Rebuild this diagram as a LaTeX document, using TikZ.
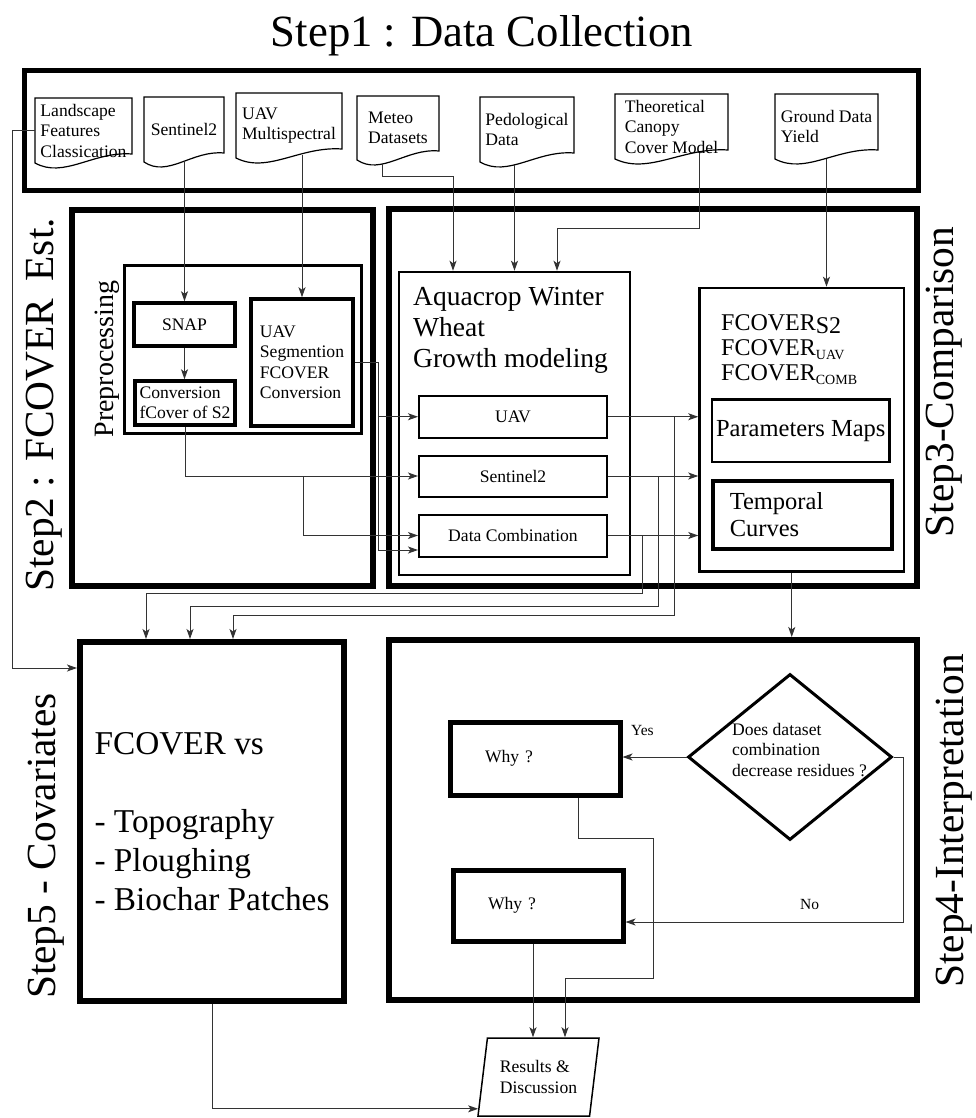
\documentclass[tikz,border=0pt]{standalone}
\usepackage{fontspec}
\setmainfont{Liberation Serif}
\usetikzlibrary{arrows.meta,calc,shapes.geometric}

\newcommand{\fsmall}{\fontsize{17.6}{20.5}\selectfont}
\newcommand{\flbl}{\fontsize{15.5}{18}\selectfont}
\newcommand{\fmid}{\fontsize{24.5}{27}\selectfont}
\newcommand{\fcmp}{\fontsize{24}{25}\selectfont}
\newcommand{\fsub}{\fontsize{14}{14}\selectfont}
\newcommand{\faqua}{\fontsize{27.5}{31}\selectfont}
\newcommand{\fprep}{\fontsize{28}{31}\selectfont}
\newcommand{\fbody}{\fontsize{33.3}{39}\selectfont}
\newcommand{\fstep}{\fontsize{41.4}{46}\selectfont}
\newcommand{\ftitle}{\fontsize{44.7}{50}\selectfont}

% outline of a document symbol around a named node
\newcommand{\docframe}[1]{%
  \draw[docline] (#1.south west) -- (#1.north west) -- (#1.north east)
    -- ($(#1.south east)+(0,-9)$)
    .. controls ($(#1.south west)!0.6!(#1.south east)+(0,-12)$)
    and ($(#1.south west)!0.3!(#1.south east)+(0,16)$) .. (#1.south west) -- cycle;}

\begin{document}
\begin{tikzpicture}[x=1pt, y=-1pt,
    stepbox/.style={draw, line width=6pt, inner sep=0pt},
    midbox/.style={draw, line width=2.5pt, inner sep=0pt},
    subbox/.style={draw, line width=2pt, inner sep=0pt, font=\fsmall},
    doc/.style={inner sep=0pt, outer sep=0pt, align=left, font=\fsmall},
    docline/.style={line width=1.2pt},
    steplbl/.style={font=\fstep, rotate=90, anchor=base, inner sep=0pt},
    conn/.style={line width=1pt, black!80, -{Stealth[length=10pt,width=7pt,inset=2.5pt]}}]
    \useasboundingbox (0,0) rectangle (976,1118);

    % bends of the connectors
    \coordinate (lcorner) at (12,668);
    \coordinate (mbend) at (453,177);
    \coordinate (tbend) at (557,228);
    \coordinate (jseg) at (378,362.5);
    \coordinate (jconv) at (303,476);
    \coordinate (juav) at (674,615);
    \coordinate (jsen) at (658,606);
    \coordinate (jcomb) at (642,593);
    \coordinate (w1a) at (653,838);
    \coordinate (w1b) at (565,978);
    \coordinate (ncorner) at (903,922);

    % Step1
    \node[font=\ftitle, anchor=base, inner sep=0pt] (title) at (482,47) {Step1 : Data Collection};
    \node[draw, line width=5pt, minimum width=894pt, minimum height=120pt] (step1) at (471,130.5) {};

    \node[doc, minimum width=97pt, minimum height=65pt] (landdoc) at (83.5,130.5) {Landscape\\Features\\Classication};
    \node[doc, minimum width=80pt, minimum height=65pt] (sendoc) at (184,129.5) {Sentinel2};
    \node[doc, minimum width=106pt, minimum height=65pt] (uavdoc) at (289,125.5) {UAV\\Multispectral};
    \node[doc, minimum width=82pt, minimum height=64pt] (meteodoc) at (398,128) {Meteo\\Datasets};
    \node[doc, minimum width=94pt, minimum height=65pt] (peddoc) at (527,129.5) {Pedological\\Data};
    \node[doc, minimum width=113pt, minimum height=65pt] (theodoc) at (671.5,126.5) {Theoretical\\Canopy\\Cover Model};
    \node[doc, minimum width=103pt, minimum height=65pt] (grounddoc) at (826.5,126.5) {Ground Data\\Yield};
    \docframe{landdoc}
    \docframe{sendoc}
    \docframe{uavdoc}
    \docframe{meteodoc}
    \docframe{peddoc}
    \docframe{theodoc}
    \docframe{grounddoc}

    % Step2
    \node[stepbox, minimum width=301pt, minimum height=376pt] (step2) at (222.5,398) {};
    \node[steplbl] (step2lbl) at (53,405) {Step2 : FCOVER\, Est.};
    \node[midbox, minimum width=237pt, minimum height=168pt] (prep) at (243,349.5) {};
    \node[font=\fprep, rotate=90, anchor=base, inner sep=0pt] (preplbl) at (113,359) {Preprocessing};
    \node[draw, line width=3.5pt, minimum width=101pt, minimum height=43pt, inner sep=2pt, font=\fsmall] (snap) at (184.5,324.5) {SNAP};
    \node[draw, line width=3.5pt, minimum width=100pt, minimum height=44pt, inner sep=1pt, align=left, font=\fsmall] (conv) at (185,403) {Conversion\\fCover of S2};
    \node[draw, line width=3.5pt, minimum width=102pt, minimum height=127pt, inner sep=2pt, align=left, font=\fsmall] (useg) at (302,362.5) {UAV\\Segmention\\FCOVER\\Conversion};

    % Step3
    \node[stepbox, minimum width=528pt, minimum height=377pt] (step3) at (653,397.5) {};
    \node[steplbl] (step3lbl) at (953,382) {Step3-Comparison};
    \node[midbox, minimum width=231pt, minimum height=303pt] (aqua) at (514.5,423.5) {};
    \node[anchor=north west, align=left, font=\faqua, inner sep=0pt] (aquatext) at (413,287) {Aquacrop Winter\\Wheat\\Growth modeling};
    \node[subbox, minimum width=188pt, minimum height=42.5pt] (uavm) at (513,416.75) {UAV};
    \node[subbox, minimum width=188pt, minimum height=41pt] (sen) at (513,476) {Sentinel2};
    \node[subbox, minimum width=188pt, minimum height=42pt] (comb) at (513,535.5) {Data Combination};
    \node[midbox, minimum width=204.5pt, minimum height=283.5pt] (cmp) at (801.75,429.75) {};
    \node[anchor=north west, align=left, font=\fcmp, inner sep=0pt] (cmptext) at (721,314) {FCOVER\raisebox{-3pt}{S2}\\FCOVER\raisebox{-4pt}{\fsub UAV}\\FCOVER\raisebox{-4pt}{\fsub COMB}};
    \node[midbox, minimum width=177.5pt, minimum height=62.5pt, font=\fmid] (pmaps) at (800.75,430.75) {Parameters Maps};
    \node[draw, line width=4pt, minimum width=179.5pt, minimum height=68pt, inner sep=0pt, text width=145pt, align=left, font=\fmid] (tcurves) at (802.25,515) {Temporal\\Curves};

    % Step5
    \node[stepbox, minimum width=264pt, minimum height=359pt, align=left, font=\fbody] (step5) at (212,821.5) {FCOVER vs\\[39pt]- Topography\\- Ploughing\\- Biochar Patches};
    \node[steplbl] (step5lbl) at (55,846) {Step5 - Covariates};

    % Step4
    \node[stepbox, minimum width=528pt, minimum height=360pt] (step4) at (653,820) {};
    \node[steplbl] (step4lbl) at (963,821) {Step4-Interpretation};
    \node[draw, diamond, line width=3pt, minimum width=204pt, minimum height=166pt, inner sep=0pt] (dia) at (790,757) {};
    \node[align=left, font=\fsmall, inner sep=0pt] (diatext) at (799.5,750) {Does dataset\\combination\\decrease residues ?};
    \node[draw, line width=5pt, minimum width=170pt, minimum height=73pt, inner sep=0pt, text width=100pt, align=left, font=\fsmall] (why1) at (535,758.5) {Why ?};
    \node[draw, line width=5pt, minimum width=170pt, minimum height=71pt, inner sep=0pt, text width=100pt, align=left, font=\fsmall] (why2) at (538,905.5) {Why ?};
    \node[font=\flbl, anchor=base west, inner sep=0pt] (yes) at (631,735) {Yes};
    \node[font=\flbl, anchor=base west, inner sep=0pt] (no) at (800,909) {No};

    \node[draw, trapezium, trapezium left angle=74, trapezium right angle=106, trapezium stretches body=true,
        minimum width=121pt, minimum height=78pt, line width=1.5pt, inner sep=0pt, align=left, font=\fsmall] (res) at (538.5,1077) {Results \&\\Discussion};

    % data flow
    \draw[conn] (landdoc.west) -| (lcorner) -- (lcorner -| step5.west);
    \draw[conn] (sendoc.south -| snap.north) -- (snap.north);
    \draw[conn] ([yshift=3pt]uavdoc.south -| useg.north) -- (useg.north);
    \draw[conn] ([xshift=-16pt,yshift=-4.5pt]meteodoc.south) |- (mbend) -- (mbend |- aqua.north);
    \draw[conn] ([yshift=-3pt]peddoc.south -| aqua.north) -- (aqua.north);
    \draw[conn] ([xshift=27.5pt,yshift=6pt]theodoc.south) |- (tbend) -- (tbend |- aqua.north);
    \draw[conn] (grounddoc.south) -- (grounddoc.south |- cmp.north);

    \draw[conn] (snap.south) -- (snap.south |- conv.north);
    \draw[conn] (useg.east) -- (jseg) |- (uavm.west);
    \draw[conn] (jseg) |- ([yshift=-14.5pt]comb.west);
    \draw[conn] (conv.south) |- (sen.west);
    \draw[conn] (jconv) |- (comb.west);

    \draw[conn] (uavm.east) -- (uavm.east -| cmp.west);
    \draw[conn] (sen.east) -- (sen.east -| cmp.west);
    \draw[conn] (comb.east) -- (comb.east -| cmp.west);
    \draw[conn] (uavm.east -| juav) -- (juav) -| ([xshift=21pt]step5.north);
    \draw[conn] (sen.east -| jsen) -- (jsen) -| ([xshift=-22pt]step5.north);
    \draw[conn] (comb.east -| jcomb) -- (jcomb) -| ([xshift=-66pt]step5.north);

    \draw[conn] ([xshift=-10pt]cmp.south) -- ([xshift=-10pt]cmp.south |- step4.north);
    \draw[conn] (dia.west) -- (dia.west -| why1.east);
    \draw[conn] (dia.east) -| (ncorner) -- (ncorner -| why2.east);
    \draw[conn] ([xshift=43pt]why1.south) |- (w1a) |- (w1b) -- (w1b |- res.north);
    \draw[conn] ([xshift=-5pt]why2.south) -- ([xshift=-5pt]why2.south |- res.north);
    \draw[conn] (step5.south) |- ($(res.bottom left corner)!0.1!(res.top left corner)$);
\end{tikzpicture}
\end{document}
